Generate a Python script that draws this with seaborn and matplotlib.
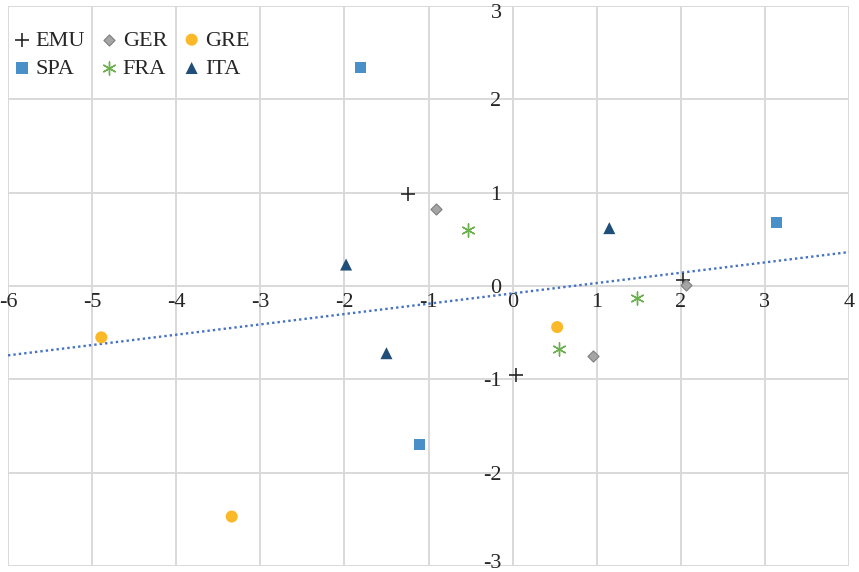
import numpy as np
import pandas as pd
import matplotlib
matplotlib.use("Agg")
import matplotlib.pyplot as plt
from matplotlib.transforms import ScaledTranslation
import seaborn as sns

# values
series = ["EMU", "GER", "GRE", "SPA", "FRA", "ITA"]
emu_x = [-1.24, 2.03, 0.04]
emu_y = [0.99, 0.06, -0.95]
ger_x = [-0.91, 2.06, 0.96]
ger_y = [0.83, 0.01, -0.75]
gre_x = [-4.89, 0.53, -3.34]
gre_y = [-0.55, -0.44, -2.47]
spa_x = [-1.81, 3.14, -1.11]
spa_y = [2.34, 0.68, -1.70]
fra_x = [-0.53, 1.48, 0.55]
fra_y = [0.60, -0.13, -0.67]
ita_x = [-1.98, 1.15, -1.50]
ita_y = [0.23, 0.62, -0.72]

xs = [emu_x, ger_x, gre_x, spa_x, fra_x, ita_x]
ys = [emu_y, ger_y, gre_y, spa_y, fra_y, ita_y]
df = pd.concat([pd.DataFrame({"x": a, "y": b, "country": s}) for s, a, b in zip(series, xs, ys)],
               ignore_index=True)

sty = {
    "EMU": dict(marker="+", color="#262626", s=110, linewidths=1.2),
    "GER": dict(marker="D", color="#a5a5a5", s=32, edgecolor="#7f7f7f", linewidth=0.8),
    "GRE": dict(marker="o", color="#fbb829", s=75, edgecolor="none"),
    "SPA": dict(marker="s", color="#4a90c8", s=65, edgecolor="none"),
    "FRA": dict(marker=(6, 2, 0), color="#6ab04c", s=90, linewidths=1.0),
    "ITA": dict(marker="^", color="#1f4e79", s=75, edgecolor="none"),
}

sns.set_style("white")
plt.rcParams["font.family"] = ["Liberation Serif", "DejaVu Serif"]
plt.rcParams["axes.unicode_minus"] = False

fig = plt.figure(figsize=(8.59, 5.72), dpi=100)
ax = fig.add_axes([8 / 859, 6 / 572, 841 / 859, 560 / 572])
ax.set_xlim(-6, 4)
ax.set_ylim(-3, 3)

# trend line over all points
sns.regplot(data=df, x="x", y="y", scatter=False, ci=None, truncate=False, ax=ax,
            line_kws=dict(color="#4472c4", linestyle=(0, (1, 1.3)), linewidth=1.7))

for s in series:
    sns.scatterplot(data=df[df.country == s], x="x", y="y", ax=ax, label=s, zorder=3, **sty[s])

ax.set_xlim(-6, 4)
ax.set_ylim(-3, 3)
ax.set_xticks(range(-6, 5))
ax.set_yticks(range(-3, 4))
ax.set_xlabel("")
ax.set_ylabel("")
ax.grid(True, color="#d9d9d9", linewidth=1.4)
ax.set_axisbelow(True)
ax.spines["left"].set_position("zero")
ax.spines["bottom"].set_position("zero")
for sp in ax.spines.values():
    sp.set_visible(False)
ax.tick_params(axis="both", length=0, labelsize=16, colors="#262626")
ax.tick_params(axis="x", pad=5)
ax.tick_params(axis="y", pad=8)

# nudge the end labels inward so they are not cut off
labs = ax.get_yticklabels()
labs[-1].set_transform(labs[-1].get_transform() + ScaledTranslation(0, -0.05, fig.dpi_scale_trans))
labs[0].set_transform(labs[0].get_transform() + ScaledTranslation(0, 0.05, fig.dpi_scale_trans))

h, l = ax.get_legend_handles_labels()
order = ["EMU", "SPA", "GER", "FRA", "GRE", "ITA"]
hh = [h[l.index(o)] for o in order]
ax.legend(hh, order, ncol=3, loc="upper left", bbox_to_anchor=(-0.011, 0.985), frameon=False,
          fontsize=16, handletextpad=0.25, columnspacing=0.75, labelspacing=0.35,
          handlelength=0.7, borderaxespad=0.3)

fig.savefig("out.png", dpi=100)
